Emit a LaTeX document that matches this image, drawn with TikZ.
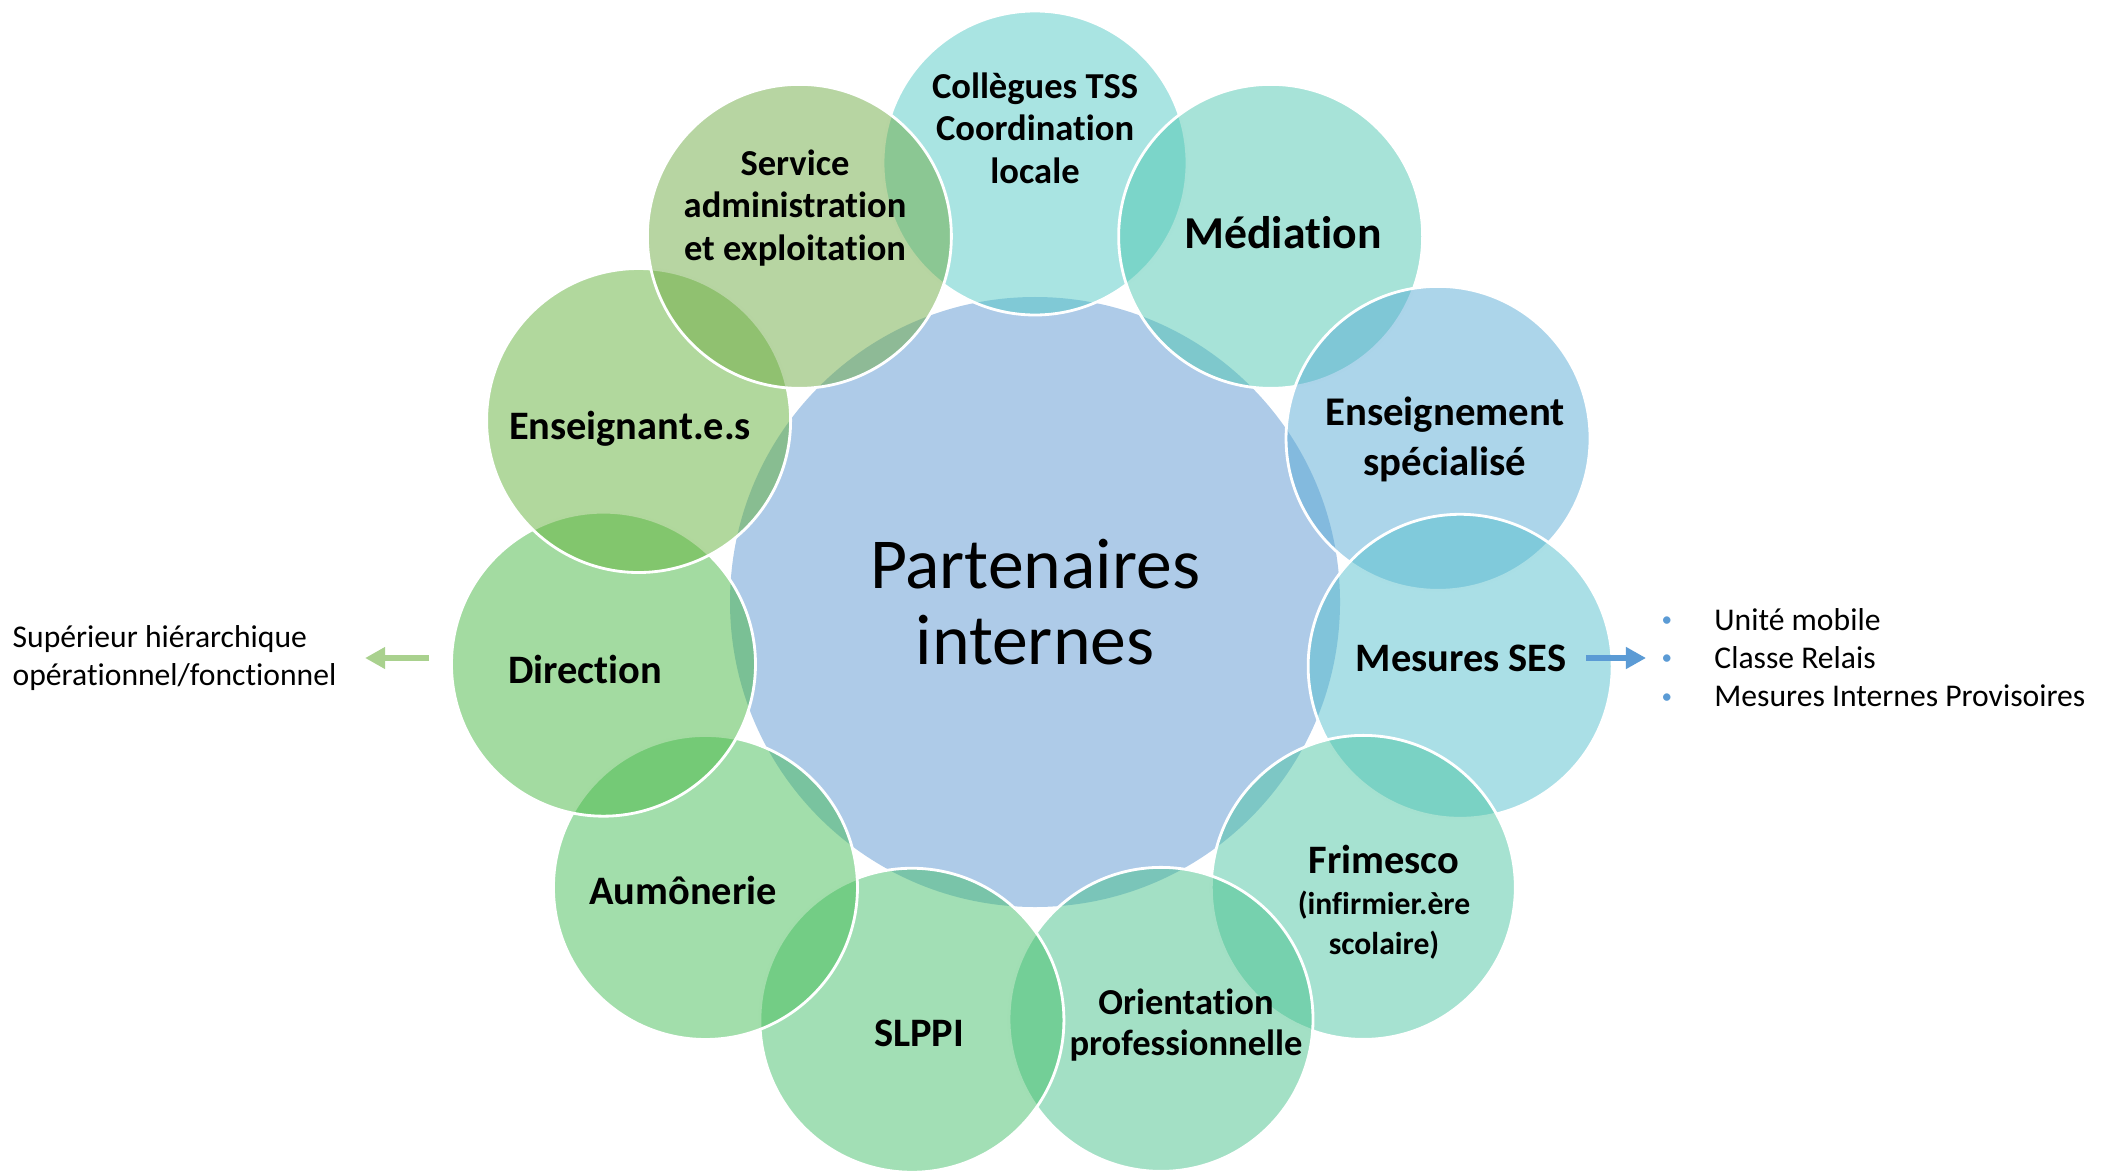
\documentclass[tikz,border=0pt]{standalone}
\usepackage{fontspec}
\setmainfont{Carlito}[Ligatures=NoCommon]
\usepackage{tikz}
\usetikzlibrary{calc,arrows.meta}

\definecolor{hubblue}{RGB}{174,203,232}
\definecolor{colTSS}{RGB}{83,201,197}
\definecolor{colMed}{RGB}{79,199,177}
\definecolor{colEns}{RGB}{89,171,213}
\definecolor{colSES}{RGB}{85,191,205}
\definecolor{colFri}{RGB}{77,197,163}
\definecolor{colOri}{RGB}{71,193,139}
\definecolor{colSLP}{RGB}{69,191,107}
\definecolor{colAum}{RGB}{69,189,87}
\definecolor{colDir}{RGB}{71,183,67}
\definecolor{colEnt}{RGB}{99,177,59}
\definecolor{colSAE}{RGB}{111,171,69}
\definecolor{arrgreen}{RGB}{169,209,142}
\definecolor{arrblue}{RGB}{91,155,213}

\newcommand{\bul}{{\color{arrblue}\raisebox{0.25ex}{\fontsize{6}{6}\selectfont\textbullet}}}

\begin{document}
\begin{tikzpicture}[
    hub/.style={circle,fill=hubblue,minimum size=6.1cm,inner sep=0pt,
        align=center,font=\fontsize{20.4}{21.5}\selectfont},
    petal/.style={circle,draw=white,line width=0.8pt,fill opacity=0.5,
        minimum size=3.04cm,inner sep=0pt},
    petaltext/.style={align=center,inner sep=0pt,
        font=\fontsize{11.5}{12.2}\selectfont\bfseries},
    smalltext/.style={petaltext,font=\fontsize{10.4}{12.1}\selectfont\bfseries},
    sidetext/.style={align=left,inner sep=0pt,anchor=west},
    arrow/.style={line width=1.9pt,-{Triangle[length=5.7pt,width=5.9pt]}}
]
    \useasboundingbox (0,0) rectangle (21.14,11.74);

    % --- 1. Central Circle ---
    \coordinate (O) at (10.35,5.72);
    \node[hub] (hub) at (O) {Partenaires\\internes};

    % --- 2. Outer Circles (clockwise from the top) ---
    \foreach \i/\ang/\rad/\col in {0/90/4.39/colTSS,1/57.2/4.35/colMed,2/22.1/4.35/colEns,
                                   3/-8.6/4.30/colSES,4/-41/4.35/colFri,5/-73.2/4.36/colOri,
                                   6/-106.4/4.36/colSLP,7/-139.1/4.36/colAum,8/-171.8/4.36/colDir,
                                   9/155.4/4.36/colEnt,10/122.8/4.35/colSAE}
        \node[petal,fill=\col] (p\i) at ($(O)+(\ang:\rad)$) {};

    % --- 3. Labels ---
    \node[smalltext] (t0) at (10.35,10.46) {Collègues TSS\\Coordination\\locale};
    \node[petaltext,font=\fontsize{13}{15}\selectfont\bfseries] (t1) at (12.83,9.41) {Médiation};
    \node[petaltext,font=\fontsize{11.6}{14.2}\selectfont\bfseries] (t2) at (14.45,7.35)
        {Enseignement\\spécialisé};
    \node[petaltext] (t3) at (14.61,5.16) {Mesures SES};
    \node[petaltext] (t4) at (13.84,2.72)
        {Frimesco\\[-0.6pt]\fontsize{9}{11.1}\selectfont(infirmier.ère\\[-0.8pt]
         \fontsize{9}{11.1}\selectfont scolaire)};
    \node[smalltext,font=\fontsize{10.4}{11.8}\selectfont\bfseries] (t5) at (11.86,1.49)
        {Orientation\\professionnelle};
    \node[petaltext] (t6) at (9.19,1.41) {SLPPI};
    \node[petaltext] (t7) at (6.83,2.84) {Aumônerie};
    \node[petaltext] (t8) at (5.85,5.05) {Direction};
    \node[petaltext] (t9) at (6.30,7.45) {Enseignant.e.s};
    \node[smalltext] (t10) at (7.95,9.66) {Service\\administration\\et exploitation};

    % --- 4. Side Notes ---
    \node[sidetext,font=\fontsize{9}{10.9}\selectfont] (sup) at (0.12,5.16)
        {Supérieur hiérarchique\\opérationnel/fonctionnel};
    \node[sidetext,font=\fontsize{9}{10.9}\selectfont] (ses) at (16.61,5.13)
        {\begin{tabular}{@{}l@{\hspace{12pt}}l@{}}
            \bul & Unité mobile\\
            \bul & Classe Relais\\
            \bul & Mesures Internes Provisoires
         \end{tabular}};

    \draw[arrow,arrgreen,shorten <=0.21cm,shorten >=0.28cm] (sup.east -| p8.west) -- (sup.east);
    \draw[arrow,arrblue,shorten <=0.19cm,shorten >=0.15cm] (t3.east) -- (ses.west |- t3.east);
\end{tikzpicture}
\end{document}
